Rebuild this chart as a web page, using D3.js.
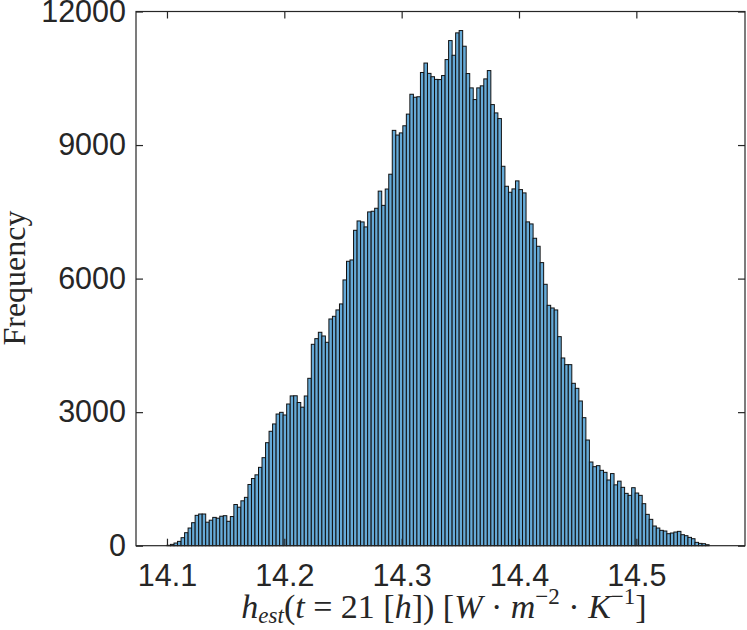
<!DOCTYPE html>
<html>
<head>
<meta charset="utf-8">
<script src="https://cdn.jsdelivr.net/npm/d3@7"></script>
<style>
  body { margin: 0; background: #fff; }
  svg { display: block; }
</style>
</head>
<body>
<div id="my_dataviz"></div>
<script>
// histogram counts, bins of width 0.003 starting at 14.1
var counts = [
  10, 30, 60, 97, 180, 292, 397, 517, 682, 712,
  712, 528, 573, 636, 618, 662, 674, 548, 655, 925,
  865, 1008, 1086, 1375, 1509, 1592, 1760, 1977, 2314, 2570,
  2735, 2958, 2996, 2936, 3183, 3365, 3368, 3217, 3112, 3363,
  3760, 4524, 4651, 4794, 4711, 4569, 5093, 5153, 5296, 5431,
  5970, 6389, 6419, 7085, 7295, 7273, 7161, 7498, 7513, 7580,
  7965, 7645, 8012, 8345, 9330, 9225, 9273, 9433, 9695, 10141,
  10074, 10085, 10630, 10842, 10610, 10535, 10475, 10471, 10561, 10920,
  11347, 11017, 11520, 11572, 11220, 10606, 10284, 10022, 10284, 10330,
  10486, 10673, 9909, 9722, 9595, 8523, 8074, 7939, 8015, 8195,
  7999, 7925, 7274, 7228, 6906, 6726, 6359, 5872, 5400, 5340,
  5296, 4696, 4217, 4067, 4067, 3648, 3535, 3251, 2876, 2374,
  1880, 1775, 1798, 1693, 1648, 1476, 1620, 1367, 1450, 1311,
  1176, 1131, 1303, 1183, 1131, 944, 704, 592, 442, 397,
  345, 330, 270, 285, 307, 322, 247, 225, 187, 157,
  75, 52, 45, 22
];
var binStart = 14.1;
var binWidth = 0.003;

var xTicks = [14.1, 14.2, 14.3, 14.4, 14.5];
var yTicks = [0, 3000, 6000, 9000, 12000];
var xLimits = [14.0736, 14.5926];
var yLimits = [0, 12000];

// set the dimensions and margins of the graph
var W = 747, H = 630;
var margin = {top: 11.5, right: 2, bottom: 84.3, left: 136},
    width = W - margin.left - margin.right,
    height = H - margin.top - margin.bottom;

var axisColor = "#262626";

var svg = d3.select("#my_dataviz")
  .append("svg")
    .attr("width", W)
    .attr("height", H)
  .append("g")
    .attr("transform", "translate(" + margin.left + "," + margin.top + ")");

var x = d3.scaleLinear().domain(xLimits).range([0, width]);
var y = d3.scaleLinear().domain(yLimits).range([height, 0]);

// Bars
svg.selectAll("rect.bar")
  .data(counts)
  .enter()
  .append("rect")
    .attr("class", "bar")
    .attr("x", function(d, i) { return x(binStart + i * binWidth); })
    .attr("width", function(d, i) { return x(binStart + (i + 1) * binWidth) - x(binStart + i * binWidth); })
    .attr("y", function(d) { return y(d); })
    .attr("height", function(d) { return y(0) - y(d); })
    .attr("fill", "#66aad7")
    .attr("stroke", "#111")
    .attr("stroke-width", 1);

// box
svg.append("rect")
  .attr("x", 0).attr("y", 0)
  .attr("width", width).attr("height", height)
  .attr("fill", "none")
  .attr("stroke", axisColor)
  .attr("stroke-width", 1.2);

var tickFont = "'Liberation Sans', Arial, Helvetica, sans-serif";

// X axis (ticks point inward)
var gx = svg.append("g")
  .attr("transform", "translate(0," + height + ")")
  .call(d3.axisBottom(x).tickValues(xTicks).tickSize(-7).tickSizeOuter(0).tickPadding(19)
        .tickFormat(d3.format(".1f")));
var gxTop = svg.append("g")
  .call(d3.axisTop(x).tickValues(xTicks).tickSize(-7).tickSizeOuter(0).tickFormat(""));

// Y axis
var gy = svg.append("g")
  .call(d3.axisLeft(y).tickValues(yTicks).tickSize(-7).tickSizeOuter(0).tickPadding(10)
        .tickFormat(d3.format("d")));
var gyRight = svg.append("g")
  .attr("transform", "translate(" + width + ",0)")
  .call(d3.axisRight(y).tickValues(yTicks).tickSize(-7).tickSizeOuter(0).tickFormat(""));

[gx, gxTop, gy, gyRight].forEach(function(g) {
  g.select(".domain").remove();
  g.selectAll(".tick line").attr("stroke", axisColor).attr("stroke-width", 1.2);
  g.selectAll("text")
    .attr("fill", axisColor)
    .style("font-family", tickFont)
    .style("font-size", "30.5px");
});

// Y label
var serif = "'Liberation Serif', 'DejaVu Serif', serif";
svg.append("text")
  .attr("transform", "translate(" + (25 - margin.left) + "," + (278 - margin.top) + ") rotate(-90)")
  .style("text-anchor", "middle")
  .style("font-family", serif)
  .style("font-size", "32px")
  .attr("fill", axisColor)
  .text("Frequency");

// X label: h_est(t = 21 [h]) [W · m^-2 · K^-1]
var xl = svg.append("text")
  .attr("x", 444 - margin.left)
  .attr("y", 618 - margin.top)
  .style("text-anchor", "middle")
  .style("font-family", serif)
  .style("font-size", "34px")
  .attr("fill", axisColor);

var parts = [
  {t: "h", it: true},
  {t: "est", it: true, sub: true},
  {t: "("},
  {t: "t", it: true},
  {t: " = 21 ["},
  {t: "h", it: true},
  {t: "]) ["},
  {t: "W", it: true},
  {t: " \u00B7 "},
  {t: "m", it: true},
  {t: "\u22122", sup: true},
  {t: " \u00B7 "},
  {t: "K", it: true},
  {t: "\u22121", sup: true},
  {t: "]"}
];
var shift = 0;
parts.forEach(function(p) {
  var ts = xl.append("tspan").text(p.t);
  if (p.it) ts.style("font-style", "italic");
  var dy = 0;
  if (p.sub) { ts.style("font-size", "23px"); dy = 5; }
  else if (p.sup) { ts.style("font-size", "23px"); dy = -14; }
  var move = dy - shift;
  if (move !== 0) ts.attr("dy", move);
  shift = dy;
});
</script>
</body>
</html>
